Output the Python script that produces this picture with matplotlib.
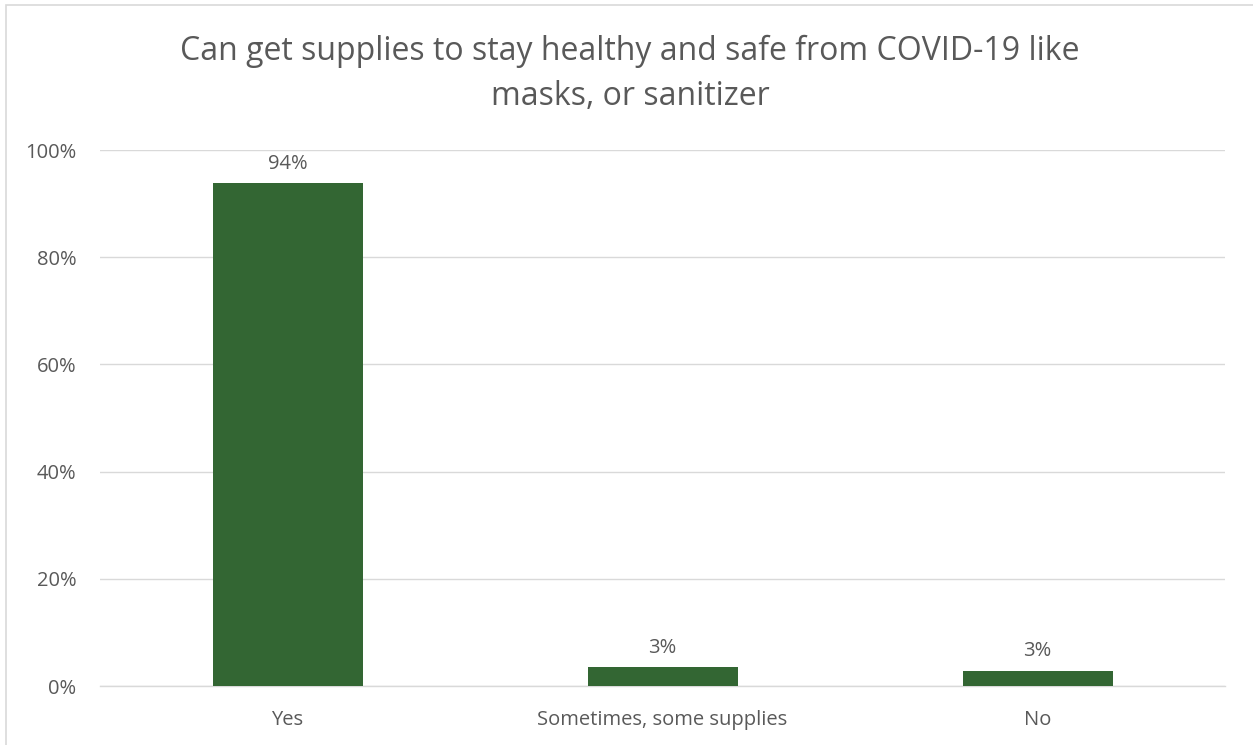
import matplotlib
matplotlib.use("Agg")
import matplotlib.pyplot as plt
from matplotlib.patches import Rectangle

categories = ["Yes", "Sometimes, some supplies", "No"]
values = [0.938, 0.035, 0.028]
labels = ["94%", "3%", "3%"]
yticks = [0, 0.2, 0.4, 0.6, 0.8, 1.0]
ytick_labels = ["0%", "20%", "40%", "60%", "80%", "100%"]
title = "Can get supplies to stay healthy and safe from COVID-19 like\nmasks, or sanitizer"

plt.rcParams['font.family'] = ['Open Sans', 'DejaVu Sans']
TXT = "#595959"
W, H = 1253, 745
fig = plt.figure(figsize=(W/100, H/100), dpi=100)
fig.patches.append(Rectangle((6/W, -0.1), 1.2, 1 - 5/H + 0.1, transform=fig.transFigure,
                             fill=False, edgecolor="#d9d9d9", linewidth=1.2))
ax = fig.add_axes([100/W, 1 - 686/H, 1125/W, 536/H])
x = range(len(categories))
ax.bar(x, values, width=0.4, color="#336633", zorder=3)
for xi, v, l in zip(x, values, labels):
    ax.text(xi, v + 0.018, l, ha="center", va="bottom", fontsize=14.5, color=TXT)
ax.set_xlim(-0.5, 2.5)
ax.set_ylim(0, 1.0)
ax.set_yticks(yticks)
ax.set_yticklabels(ytick_labels, fontsize=14.5, color=TXT)
ax.set_xticks(list(x))
ax.set_xticklabels(categories, fontsize=14.5, color=TXT)
ax.tick_params(length=0, pad=17)
ax.tick_params(axis="y", pad=17)
ax.grid(axis="y", color="#d9d9d9", linewidth=1, zorder=0)
for s in ["top", "right", "left"]:
    ax.spines[s].set_visible(False)
ax.spines["bottom"].set_color("#d9d9d9")
ax.spines["bottom"].set_linewidth(1)
fig.text(630/W, 1 - 74/H, title, ha="center", va="center", fontsize=23, color=TXT, linespacing=1.5)
fig.savefig("out.png", dpi=100)
